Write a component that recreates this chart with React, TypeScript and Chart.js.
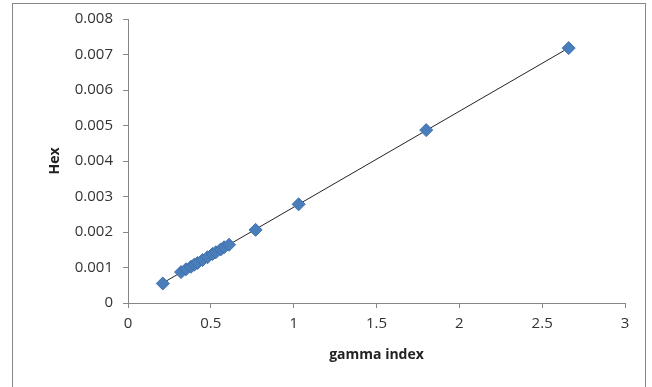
import React, { useEffect, useRef } from "react";
import { Chart, registerables } from "chart.js";

Chart.register(...registerables);

const gammaIndex = [0.21, 0.32, 0.35, 0.38, 0.4, 0.42, 0.45, 0.48, 0.51, 0.53, 0.56, 0.58, 0.61, 0.77, 1.03, 1.8, 2.66];
const hexValues = [0.00055, 0.00087, 0.00095, 0.00102, 0.00108, 0.00113, 0.00121, 0.00129, 0.00138, 0.00143, 0.00151, 0.00157, 0.00164, 0.00206, 0.00278, 0.00487, 0.00718];
const xTicks = [0, 0.5, 1, 1.5, 2, 2.5, 3];
const yTicks = [0, 0.001, 0.002, 0.003, 0.004, 0.005, 0.006, 0.007, 0.008];

function regression(xs: number[], ys: number[]) {
  const n = xs.length;
  const mx = xs.reduce((a, b) => a + b, 0) / n;
  const my = ys.reduce((a, b) => a + b, 0) / n;
  let sxy = 0, sxx = 0;
  for (let i = 0; i < n; i++) {
    sxy += (xs[i] - mx) * (ys[i] - my);
    sxx += (xs[i] - mx) * (xs[i] - mx);
  }
  const b = sxy / sxx;
  return { a: my - b * mx, b };
}

export default function App() {
  const ref = useRef<HTMLCanvasElement>(null);
  useEffect(() => {
    if (!ref.current) return;
    const { a, b } = regression(gammaIndex, hexValues);
    const xmin = Math.min(...gammaIndex);
    const xmax = Math.max(...gammaIndex);
    const font = { family: "'Open Sans', 'Liberation Sans', sans-serif", size: 15 };
    const chart = new Chart(ref.current, {
      type: "scatter",
      data: {
        datasets: [
          {
            label: "trend",
            data: [
              { x: xmin, y: a + b * xmin },
              { x: xmax, y: a + b * xmax },
            ],
            showLine: true,
            borderColor: "#222",
            borderWidth: 1,
            pointRadius: 0,
            order: 1,
          },
          {
            label: "Hex",
            data: gammaIndex.map((x, i) => ({ x, y: hexValues[i] })),
            pointStyle: "rectRot",
            pointRadius: 6.5,
            backgroundColor: "#4A7EBB",
            borderColor: "#3F70AC",
            borderWidth: 1,
            order: 0,
          },
        ],
      },
      options: {
        animation: false,
        responsive: false,
        layout: { padding: { left: 47, top: 19, right: 27, bottom: 24 } },
        plugins: { legend: { display: false }, tooltip: { enabled: false } },
        scales: {
          x: {
            type: "linear",
            min: 0,
            max: 3,
            afterBuildTicks: (s: any) => { s.ticks = xTicks.map((v) => ({ value: v })); },
            afterFit: (s: any) => { s.height = 60; },
            grid: { drawOnChartArea: false, drawTicks: true, tickLength: 5, color: "#868686" },
            border: { color: "#868686" },
            ticks: { font, color: "#333", padding: 7, callback: (v: any) => String(v) },
            title: { display: true, text: "gamma index", font: { ...font, size: 14, weight: "bold" }, color: "#222", padding: { top: 4, bottom: 0 } },
          },
          y: {
            type: "linear",
            min: 0,
            max: 0.008,
            afterBuildTicks: (s: any) => { s.ticks = yTicks.map((v) => ({ value: v })); },
            afterFit: (s: any) => { s.width = 81; },
            grid: { drawOnChartArea: false, drawTicks: true, tickLength: 5, color: "#868686" },
            border: { color: "#868686" },
            ticks: { font, color: "#333", padding: 10, callback: (v: any) => (v === 0 ? "0" : Number(v).toFixed(3)) },
            title: { display: true, text: "Hex", font: { ...font, size: 14, weight: "bold" }, color: "#222", padding: { top: 0, bottom: 0 } },
          },
        },
      },
    });
    return () => chart.destroy();
  }, []);
  return (
    <div style={{ position: "fixed", left: 0, top: 0, width: 652, height: 387, background: "#fff" }}>
      <div style={{ position: "absolute", left: 12, top: 3, width: 634, height: 390, border: "1px solid #888", boxSizing: "border-box" }} />
      <canvas ref={ref} width={652} height={387} style={{ position: "absolute", left: 0, top: 0 }} />
    </div>
  );
}
